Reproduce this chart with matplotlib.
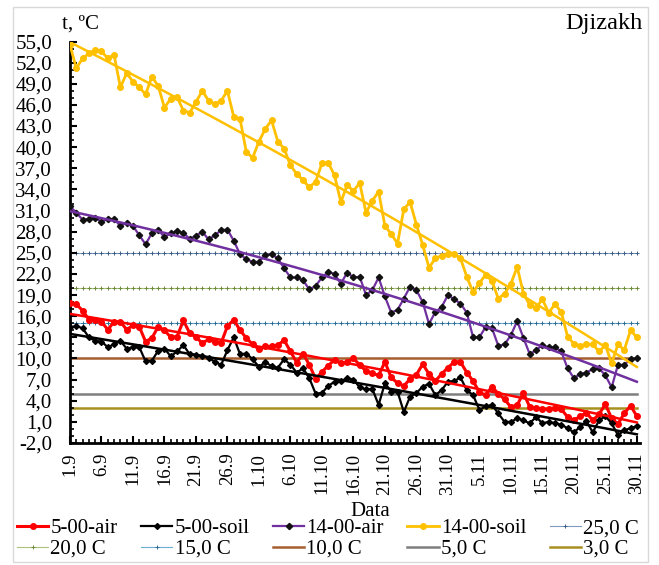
import numpy as np
import matplotlib.pyplot as plt
from matplotlib.patches import Rectangle
from matplotlib.ticker import MultipleLocator, FixedLocator, FuncFormatter

plt.rcParams['font.family'] = ['Liberation Serif', 'DejaVu Serif']

# daily temperatures, 1 Sep - 30 Nov
days = np.arange(91)

air_5 = [17.9, 17.7, 16.8, 15.5, 15.5, 15.2, 14.1, 15.2, 15.2, 14.1,
         14.7, 14.5, 12.4, 12.9, 14.5, 14.0, 13.0, 13.1, 15.4, 13.6,
         13.0, 12.2, 12.7, 12.4, 12.2, 14.6, 15.5, 14.0, 12.9, 12.0,
         11.3, 11.7, 11.7, 11.9, 12.6, 11.0, 9.4, 10.7, 9.1, 7.1,
         8.1, 9.0, 9.8, 9.3, 9.5, 10.0, 9.1, 8.2, 7.9, 7.6,
         9.5, 7.3, 6.5, 6.1, 7.1, 7.7, 9.2, 7.8, 6.8, 7.8,
         8.7, 9.5, 9.5, 8.0, 6.8, 5.2, 4.8, 6.0, 5.0, 4.2,
         3.1, 3.4, 5.1, 3.1, 3.0, 2.8, 2.8, 3.0, 2.8, 1.7,
         1.2, 1.8, 2.3, 1.2, 2.1, 3.5, 1.5, 0.7, 2.2, 3.3, 1.8]

soil_5 = [14.4, 14.6, 14.3, 13.0, 12.5, 12.4, 11.6, 12.0, 12.5, 11.4,
          11.6, 11.6, 9.6, 9.7, 11.1, 11.4, 10.3, 11.0, 11.9, 10.6,
          10.5, 10.3, 10.1, 9.5, 9.1, 11.2, 13.0, 10.6, 10.7, 9.9,
          8.8, 9.5, 8.9, 8.7, 9.9, 9.1, 8.0, 8.6, 7.2, 5.0,
          5.1, 6.1, 6.7, 6.8, 7.2, 7.0, 5.9, 5.6, 5.7, 3.4,
          6.5, 5.3, 5.3, 2.4, 4.6, 5.1, 6.0, 6.4, 4.8, 5.5,
          6.7, 6.8, 7.3, 5.5, 4.8, 2.7, 3.2, 3.4, 2.2, 1.0,
          1.0, 1.5, 1.2, 0.8, 1.7, 0.8, 1.0, 0.8, 0.6, 0.1,
          -0.5, 0.3, 1.1, -0.5, 1.2, 1.8, 0.8, -0.9, -0.2, 0.1, 0.4]

air_14 = [31.6, 30.7, 29.7, 29.8, 30.0, 29.4, 29.8, 29.8, 28.8, 29.3,
          28.8, 27.5, 26.2, 27.8, 28.3, 27.2, 27.8, 28.1, 27.8, 27.0,
          27.4, 28.0, 26.9, 27.5, 28.2, 28.3, 26.7, 24.8, 24.1, 23.7,
          23.7, 24.7, 24.8, 24.2, 22.8, 21.5, 21.5, 21.1, 19.8, 20.3,
          21.5, 22.3, 22.0, 20.6, 22.2, 21.5, 21.6, 19.0, 19.7, 21.5,
          18.8, 16.5, 16.9, 18.5, 20.2, 19.7, 18.0, 14.9, 16.6, 17.3,
          19.0, 18.4, 17.8, 16.5, 13.0, 13.0, 14.5, 14.3, 11.8, 12.0,
          13.3, 15.3, 12.9, 10.6, 11.2, 11.9, 11.6, 11.6, 11.0, 8.6,
          7.2, 7.8, 8.0, 8.5, 8.6, 7.6, 5.9, 9.1, 9.1, 9.9, 10.0]

soil_14 = [54.5, 51.2, 52.6, 53.3, 53.8, 53.6, 52.6, 53.1, 48.5, 50.5,
           49.3, 48.5, 47.5, 50.0, 48.7, 45.6, 46.9, 47.1, 45.2, 44.9,
           46.4, 48.0, 46.6, 46.1, 46.6, 48.0, 44.3, 44.0, 39.3, 38.5,
           40.8, 42.6, 43.8, 40.8, 39.8, 37.4, 36.2, 35.3, 34.3, 35.1,
           37.7, 37.8, 36.0, 32.2, 34.6, 33.8, 34.9, 30.7, 32.4, 33.7,
           28.8, 27.7, 26.3, 31.2, 32.2, 29.0, 26.1, 22.9, 24.2, 24.6,
           24.8, 24.9, 24.2, 21.6, 19.4, 20.7, 21.9, 21.0, 18.5, 19.2,
           20.6, 23.0, 19.2, 17.6, 17.2, 18.4, 16.5, 17.7, 16.6, 13.1,
           12.1, 11.8, 12.0, 12.0, 11.0, 11.9, 9.3, 12.0, 11.2, 14.0, 13.0]

level_values = [25.0, 20.0, 15.0, 10.0, 5.0, 3.0]
level_labels = ['25,0 C', '20,0 C', '15,0 C', '10,0 C', '5,0 C', '3,0 C']

tick_pos = list(range(0, 91, 5))
tick_labels = ['1.9', '6.9', '11.9', '16.9', '21.9', '26.9', '1.10', '6.10',
               '11.10', '16.10', '21.10', '26.10', '31.10', '5.11', '10.11',
               '15.11', '20.11', '25.11', '30.11']

FS = 15

fig = plt.figure(figsize=(6.59, 5.65), dpi=100)
fig.patches.append(Rectangle((13 / 659, 1 - 562 / 565), 635 / 659, 555 / 565,
                             transform=fig.transFigure, fill=False,
                             edgecolor='#d9d9d9', linewidth=1))
ax = fig.add_axes([70 / 659, 1 - 443 / 565, 570 / 659, 401.5 / 565])

# threshold lines
thin_styles = [('#7f9cc0', '#3d5f86'), ('#a9c47a', '#6d8a3a'), ('#6aaed0', '#2f6f96')]
handles_lvl = []
for k, (val, lab) in enumerate(zip(level_values, level_labels)):
    yv = np.full(len(days), val)
    if k < 3:
        lc, mc = thin_styles[k]
        h, = ax.plot(days, yv, color=lc, lw=0.8, marker='+', ms=2.3,
                     mec=mc, mew=0.7, label=lab, zorder=1)
    else:
        col = ['#a65e2e', '#7f7f7f', '#a89020'][k - 3]
        h, = ax.plot(days, yv, color=col, lw=1.8, label=lab, zorder=1)
    handles_lvl.append(h)

# measured series with 2nd order trend lines
series = [
    (air_5, '5-00-air', '#ff0000', 'o', '#ff0000', 4.0, 2.2),
    (soil_5, '5-00-soil', '#000000', 'D', '#000000', 3.0, 1.6),
    (air_14, '14-00-air', '#7030a0', 'D', '#111111', 3.2, 1.6),
    (soil_14, '14-00-soil', '#ffc000', 'o', '#ffc000', 4.0, 2.0),
]
handles_ser = []
for vals, lab, col, mk, mcol, ms, lw in series:
    h, = ax.plot(days, vals, color=col, lw=lw, marker=mk, ms=ms,
                 mfc=mcol, mec=mcol, label=lab, zorder=3)
    handles_ser.append(h)
    coef = np.polyfit(days, vals, 2)
    ax.plot(days, np.polyval(coef, days), color=col, lw=1.8, zorder=4)

ax.set_xlim(0, 90.5)
ax.set_ylim(-2, 55)
ax.yaxis.set_major_locator(FixedLocator(np.arange(-2, 56, 3)))
ax.yaxis.set_minor_locator(MultipleLocator(1))
ax.yaxis.set_major_formatter(FuncFormatter(lambda v, p: f'{v:.1f}'.replace('.', ',')))
ax.set_xticks(tick_pos)
ax.set_xticklabels(tick_labels, rotation=90)
ax.xaxis.set_minor_locator(MultipleLocator(1))

for s in ['top', 'right']:
    ax.spines[s].set_visible(False)
for s in ['left', 'bottom']:
    ax.spines[s].set_linewidth(2)
ax.tick_params(axis='both', which='major', direction='in', length=5, width=1.5,
               colors='black')
ax.tick_params(axis='both', which='minor', direction='in', length=3, width=1.2)
ax.tick_params(axis='y', pad=13, labelsize=FS)
ax.tick_params(axis='x', pad=7, labelsize=13.5)

fig.text(370 / 659, 1 - 511 / 565, 'Data', fontsize=FS, ha='center', va='center')
fig.text(80 / 659, 1 - 24 / 565, 't, ºC', fontsize=FS, ha='center', va='center')
fig.text(643 / 659, 1 - 24 / 565, 'Djizakh', fontsize=17.5, ha='right', va='center')

# legend filled row by row (5 per row)
row1 = handles_ser + [handles_lvl[0]]
row2 = handles_lvl[1:]
ordered = []
for a, b in zip(row1, row2):
    ordered += [a, b]
fig.legend(ordered, [h.get_label() for h in ordered], ncol=5,
           loc='lower left', bbox_to_anchor=(13 / 659, 2 / 565, 630 / 659, 50 / 565),
           mode='expand', frameon=False, fontsize=FS, handlelength=1.5,
           handletextpad=0.1, columnspacing=0.5, labelspacing=0.05,
           borderaxespad=0.0, borderpad=0.2)

fig.savefig('out.png', dpi=100)
